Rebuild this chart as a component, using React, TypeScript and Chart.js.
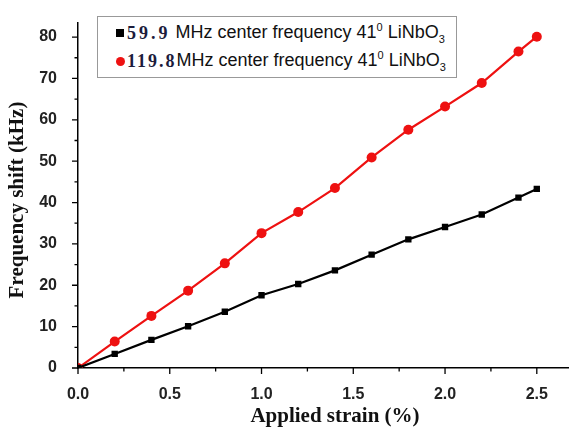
import React, { useEffect, useRef } from "react";
import { Chart, registerables } from "chart.js";
Chart.register(...registerables);

const strain = [0, 0.2, 0.4, 0.6, 0.8, 1.0, 1.2, 1.4, 1.6, 1.8, 2.0, 2.2, 2.4, 2.5];
const shift59 = [0, 3.4, 6.8, 10.1, 13.6, 17.6, 20.3, 23.6, 27.4, 31.1, 34.1, 37.1, 41.2, 43.3];
const shift119 = [0, 6.4, 12.6, 18.7, 25.3, 32.6, 37.7, 43.5, 50.9, 57.6, 63.2, 68.9, 76.5, 80.1];
const xTicks = [0, 0.5, 1.0, 1.5, 2.0, 2.5];
const xMinor = [0.25, 0.75, 1.25, 1.75, 2.25];
const yTicks = [0, 10, 20, 30, 40, 50, 60, 70, 80];
const yMinor = [5, 15, 25, 35, 45, 55, 65, 75];
const xTitle = "Applied strain (%)";
const yTitle = "Frequency shift (kHz)";

const tickPlugin = {
  id: "ticksAndTitles",
  afterDraw(chart: any) {
    const ctx = chart.ctx;
    const x = chart.scales.x;
    const y = chart.scales.y;
    const left = chart.chartArea.left;
    const bottom = chart.chartArea.bottom;
    ctx.save();
    ctx.strokeStyle = "#000";
    ctx.lineWidth = 1.3;
    ctx.beginPath();
    xTicks.forEach((v) => {
      const px = x.getPixelForValue(v);
      ctx.moveTo(px, bottom);
      ctx.lineTo(px, bottom + 6);
    });
    xMinor.forEach((v) => {
      const px = x.getPixelForValue(v);
      ctx.moveTo(px, bottom);
      ctx.lineTo(px, bottom + 3.5);
    });
    yTicks.forEach((v) => {
      const py = y.getPixelForValue(v);
      ctx.moveTo(left, py);
      ctx.lineTo(left - 6, py);
    });
    yMinor.forEach((v) => {
      const py = y.getPixelForValue(v);
      ctx.moveTo(left, py);
      ctx.lineTo(left - 3.5, py);
    });
    ctx.stroke();

    ctx.fillStyle = "#111";
    ctx.font = "bold 21px 'Liberation Serif'";
    ctx.textAlign = "center";
    ctx.textBaseline = "alphabetic";
    ctx.fillText(xTitle, 335, 422);
    ctx.translate(23, 200);
    ctx.rotate(-Math.PI / 2);
    ctx.fillText(yTitle, 0, 0);
    ctx.restore();
  },
};

export default function App() {
  const ref = useRef<HTMLCanvasElement>(null);
  useEffect(() => {
    const chart = new Chart(ref.current!, {
      type: "line",
      data: {
        datasets: [
          {
            label: "59.9 MHz",
            data: strain.map((s, i) => ({ x: s, y: shift59[i] })),
            borderColor: "#000",
            backgroundColor: "#000",
            borderWidth: 2.2,
            pointStyle: "rect",
            pointRadius: 4.5,
            pointBorderWidth: 0,
          },
          {
            label: "119.8 MHz",
            data: strain.map((s, i) => ({ x: s, y: shift119[i] })),
            borderColor: "#ee1111",
            backgroundColor: "#ee1111",
            borderWidth: 2.2,
            pointStyle: "circle",
            pointRadius: 5,
            pointBorderWidth: 0,
          },
        ],
      },
      options: {
        animation: false,
        responsive: false,
        layout: { padding: { top: 15, left: 0, right: 0, bottom: 0 } },
        plugins: { legend: { display: false }, tooltip: { enabled: false } },
        scales: {
          x: {
            type: "linear",
            min: 0,
            max: 2.67,
            afterBuildTicks: (s: any) => {
              s.ticks = xTicks.map((v) => ({ value: v }));
            },
            afterFit: (s: any) => {
              s.height = 59;
            },
            grid: { display: false },
            border: { display: true, color: "#000", width: 1.5 },
            ticks: {
              color: "#222",
              padding: 9,
              font: { family: "Liberation Sans", weight: "bold", size: 16 },
              callback: (v: any) => Number(v).toFixed(1),
            },
          },
          y: {
            type: "linear",
            min: 0,
            max: 83.5,
            afterBuildTicks: (s: any) => {
              s.ticks = yTicks.map((v) => ({ value: v }));
            },
            afterFit: (s: any) => {
              s.width = 78;
            },
            grid: { display: false },
            border: { display: true, color: "#000", width: 1.5 },
            ticks: {
              color: "#222",
              padding: 13,
              font: { family: "Liberation Sans", weight: "bold", size: 16 },
            },
          },
        },
      },
      plugins: [tickPlugin],
    } as any);
    return () => chart.destroy();
  }, []);

  const rowStyle: React.CSSProperties = {
    display: "flex",
    alignItems: "center",
    height: 28,
    whiteSpace: "nowrap",
  };
  const numStyle: React.CSSProperties = {
    fontFamily: "Liberation Serif",
    fontWeight: "bold",
    fontSize: 18,
    letterSpacing: 3,
    color: "#1c1c3c",
  };
  const txtStyle: React.CSSProperties = {
    fontFamily: "Liberation Sans",
    fontSize: 18,
    color: "#111",
    whiteSpace: "pre",
  };
  const sup: React.CSSProperties = { fontSize: 11, verticalAlign: "super" };
  const sub: React.CSSProperties = { fontSize: 11, verticalAlign: "sub" };

  return (
    <div style={{ position: "fixed", left: 0, top: 0, width: 573, height: 427, background: "#fff" }}>
      <canvas ref={ref} width={573} height={427} style={{ display: "block" }} />
      <div
        style={{
          position: "absolute",
          left: 97,
          top: 16,
          width: 360,
          height: 62,
          border: "1.5px solid #999",
          background: "#fff",
          boxSizing: "border-box",
          paddingLeft: 18,
          paddingTop: 2,
        }}
      >
        <div style={rowStyle}>
          <span style={{ display: "inline-block", width: 8, height: 8, background: "#000", marginRight: 3 }} />
          <span style={numStyle}>59.9</span>
          <span style={txtStyle}>
            {" MHz center frequency 41"}<span style={sup}>0</span>{" LiNbO"}<span style={sub}>3</span>
          </span>
        </div>
        <div style={rowStyle}>
          <span style={{ display: "inline-block", width: 9, height: 9, borderRadius: 5, background: "#ee1111", marginRight: 2 }} />
          <span style={{ ...numStyle, letterSpacing: 2 }}>119.8</span>
          <span style={txtStyle}>
            {"MHz center frequency 41"}<span style={sup}>0</span>{" LiNbO"}<span style={sub}>3</span>
          </span>
        </div>
      </div>
    </div>
  );
}
